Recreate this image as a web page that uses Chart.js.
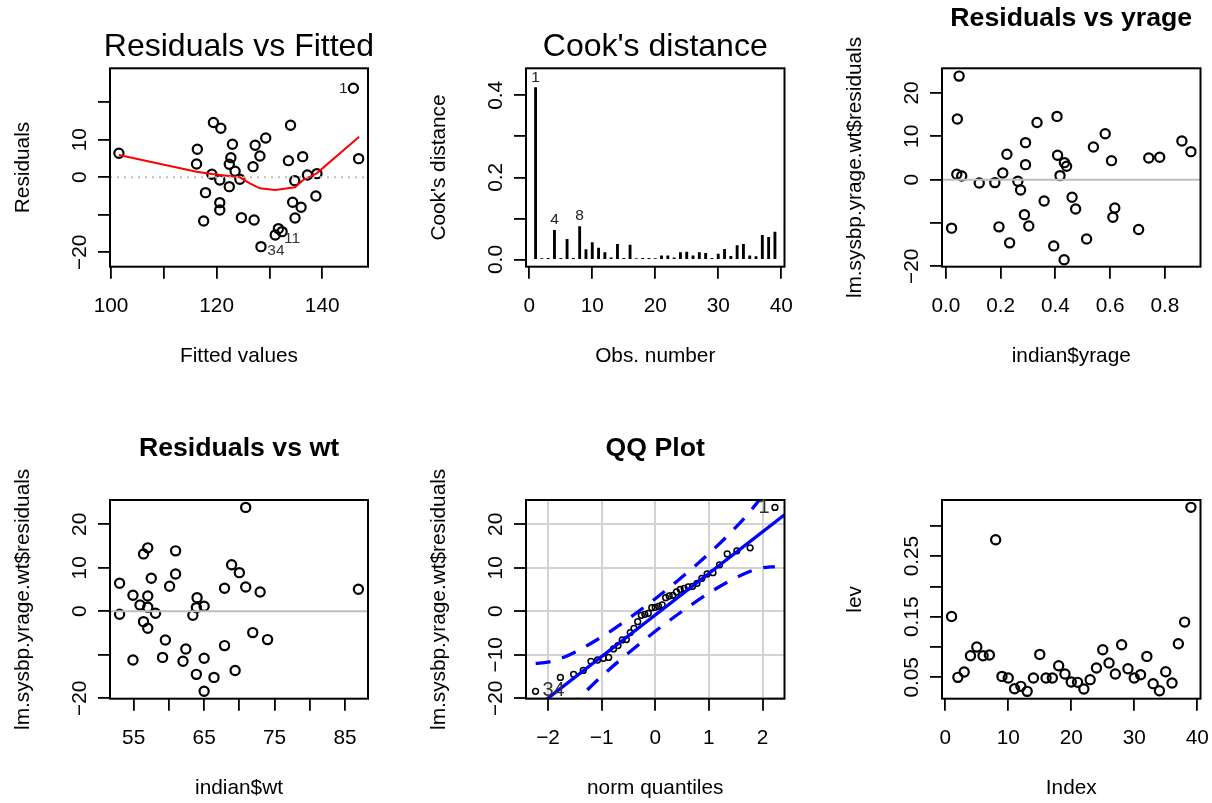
<!DOCTYPE html>
<html>
<head>
<meta charset="utf-8">
<script src="https://cdn.jsdelivr.net/npm/chart.js@4.4.0/dist/chart.umd.min.js"></script>
<style>
  html, body { margin: 0; padding: 0; background: #fff; }
  #wrap { position: relative; width: 1212px; height: 803px; overflow: hidden; }
  canvas { position: absolute; }
</style>
</head>
<body>
<div id="wrap">
  <canvas id="c1" width="404" height="401" style="left:0px;top:0px"></canvas>
  <canvas id="c2" width="404" height="401" style="left:404px;top:0px"></canvas>
  <canvas id="c3" width="404" height="401" style="left:808px;top:0px"></canvas>
  <canvas id="c4" width="404" height="402" style="left:0px;top:401px"></canvas>
  <canvas id="c5" width="404" height="402" style="left:404px;top:401px"></canvas>
  <canvas id="c6" width="404" height="402" style="left:808px;top:401px"></canvas>
</div>
<script>
// Residuals vs Fitted
const fittedVals = [101.5, 116.35, 116.2, 119.4, 120.8, 123.0, 122.7, 122.4, 123.5, 119.1, 120.6, 122.4, 124.4, 117.9, 120.6, 120.6, 117.55, 124.7, 127.1, 127.3, 128.2, 129.3, 126.9, 134.0, 133.6, 136.3, 134.8, 137.2, 139.0, 138.8, 134.4, 136.0, 134.85, 131.7, 131.1, 132.4, 128.4, 145.9, 146.9];
const fittedResid = [6.4, 7.47, 3.56, 14.6, 13.1, 8.8, 5.24, 3.47, 1.6, 0.8, -0.71, -2.49, -0.53, -4.09, -6.76, -8.71, -11.64, -10.76, -11.38, 8.53, 5.69, 10.49, 2.84, 13.87, 4.44, 5.51, -0.89, 0.62, 0.98, -4.98, -6.67, -8.0, -10.84, -13.69, -15.38, -14.49, -18.49, 23.73, 4.98];
const smoothX = [101.5, 116.2, 119.1, 124.4, 126.3, 128.2, 131.1, 134.85, 136.4, 138.95, 147.0];
const smoothY = [5.96, 1.51, 0.89, 0.0, -1.6, -2.93, -3.38, -2.67, -0.71, 1.07, 10.84];

// Cook's distance
const obsNumber = [1,2,3,4,5,6,7,8,9,10,11,12,13,14,15,16,17,18,19,20,21,22,23,24,25,26,27,28,29,30,31,32,33,34,35,36,37,38,39];
const cooksD = [0.419, 0.002, 0.003, 0.071, 0.003, 0.049, 0.003, 0.080, 0.024, 0.041, 0.028, 0.017, 0.004, 0.037, 0.003, 0.035, 0.002, 0.003, 0.003, 0.002, 0.009, 0.009, 0.004, 0.017, 0.018, 0.009, 0.017, 0.015, 0.003, 0.013, 0.025, 0.008, 0.034, 0.037, 0.009, 0.007, 0.059, 0.054, 0.067];

// Residuals vs yrage
const yrage = [0.0485, 0.042, 0.04, 0.058, 0.021, 0.122, 0.179, 0.208, 0.223, 0.194, 0.233, 0.263, 0.273, 0.291, 0.291, 0.287, 0.303, 0.333, 0.359, 0.394, 0.406, 0.408, 0.433, 0.441, 0.417, 0.432, 0.461, 0.474, 0.514, 0.539, 0.582, 0.605, 0.617, 0.61, 0.704, 0.741, 0.781, 0.862, 0.895];
const residYrage = [23.9, 14.0, 1.23, 0.85, -11.2, -0.77, -0.69, 1.54, 5.85, -10.9, -14.6, -0.38, -2.38, 8.54, 3.46, -8.08, -10.7, 13.2, -4.92, -15.3, 14.6, 5.62, 3.92, 3.08, 0.92, -18.5, -4.08, -6.77, -13.7, 7.54, 10.6, 4.38, -6.54, -8.69, -11.5, 5.0, 5.15, 8.92, 6.46];

// Residuals vs wt
const wt = [53.0, 53.0, 54.9, 54.9, 55.9, 56.4, 57.0, 57.0, 57.0, 56.4, 57.0, 57.5, 58.1, 59.5, 59.1, 60.1, 60.95, 60.95, 62.4, 62.0, 63.4, 64.0, 63.9, 65.0, 65.0, 63.9, 65.0, 66.4, 67.9, 67.9, 68.9, 69.4, 70.0, 70.9, 70.9, 71.9, 72.95, 74.0, 86.9];
const residWt = [6.44, -0.69, 3.68, -11.2, 1.46, 13.2, 14.6, 3.52, 0.92, -2.38, -3.91, 7.59, -0.46, -6.59, -10.6, 5.75, 13.9, 8.58, -8.66, -11.5, -0.92, 3.14, 0.84, 1.15, -10.8, -14.5, -18.4, -15.2, 5.29, -7.89, 10.7, -13.6, 8.89, 23.9, 5.59, -4.9, 4.44, -6.51, 5.06];

// QQ plot
const normQuantiles = [-2.232, -1.769, -1.522, -1.342, -1.198, -1.076, -0.967, -0.869, -0.779, -0.695, -0.615, -0.539, -0.466, -0.396, -0.327, -0.260, -0.194, -0.129, -0.064, 0, 0.064, 0.129, 0.194, 0.260, 0.327, 0.396, 0.466, 0.539, 0.615, 0.695, 0.779, 0.869, 0.967, 1.076, 1.198, 1.342, 1.522, 1.769, 2.232];
const sortedResid = [-18.4, -15.2, -14.5, -13.6, -11.5, -11.2, -10.8, -10.6, -8.66, -7.89, -6.59, -6.51, -4.9, -3.91, -2.38, -0.92, -0.69, -0.46, 0.84, 0.92, 1.15, 1.46, 3.14, 3.52, 3.68, 4.44, 5.06, 5.29, 5.59, 5.75, 6.44, 7.59, 8.58, 8.89, 10.7, 13.2, 13.9, 14.6, 23.9];
const qqLineX = [-2.41, 2.41];
const qqLineY = [-23.9, 22.2];
const bandX = [-2.23, -2.0, -1.75, -1.5, -1.0, -0.5, 0, 0.5, 1.0, 1.5, 1.75, 2.0, 2.23];
const bandUpper = [-12.0, -11.7, -10.8, -9.4, -5.9, -1.7, 2.9, 7.9, 13.25, 19.3, 22.7, 26.6, 30.7];
const bandLower = [-32.4, -28.3, -24.4, -21.0, -14.95, -9.6, -4.6, 0.0, 4.2, 7.7, 9.1, 10.0, 10.3];

// Leverage
const lev = [0.1505, 0.05, 0.0588, 0.0857, 0.1, 0.0857, 0.0868, 0.2769, 0.0516, 0.0489, 0.0313, 0.0352, 0.0269, 0.0489, 0.0879, 0.0489, 0.0489, 0.0692, 0.0555, 0.0423, 0.0418, 0.0308, 0.0462, 0.0654, 0.0956, 0.0736, 0.0555, 0.1038, 0.0643, 0.0489, 0.0544, 0.0846, 0.0396, 0.028, 0.0593, 0.0407, 0.1055, 0.1412, 0.3305];

const FONT = '"Liberation Sans", Arial, Helvetica, sans-serif';
const fmt = v => String(v).replace('-', '\u2212');

function pts(xs, ys) { return xs.map((x, i) => ({ x: x, y: ys[i] })); }

function axis(min, max, ticks, grid) {
  return {
    type: 'linear', min: min, max: max, offset: false,
    afterBuildTicks: s => { s.ticks = ticks.map(v => ({ value: v })); },
    ticks: { display: false },
    grid: grid ? { drawOnChartArea: true, color: '#d3d3d3', tickColor: '#000', lineWidth: 2, tickWidth: 1.8, drawTicks: true, tickLength: 12, offset: false }
               : { drawOnChartArea: false, drawTicks: true, tickLength: 12, color: '#000', lineWidth: 1.8, offset: false },
    border: { display: false }
  };
}

// draws the R-style frame, tick labels, titles and point labels
function rFrame(o) {
  return {
    id: 'rFrame',
    afterDraw(chart) {
      const ctx = chart.ctx, a = chart.chartArea;
      const xs = chart.scales.x, ys = chart.scales.y;
      ctx.save();
      ctx.strokeStyle = '#000';
      ctx.lineWidth = 2;
      ctx.strokeRect(a.left, a.top, a.right - a.left, a.bottom - a.top);
      ctx.fillStyle = '#000';
      ctx.font = '20.8px ' + FONT;
      ctx.textAlign = 'center';
      ctx.textBaseline = 'middle';
      o.xAt.forEach((v, i) => ctx.fillText(o.xText ? o.xText[i] : fmt(v), xs.getPixelForValue(v), a.bottom + 39.5));
      o.yAt.forEach((v, i) => {
        ctx.save();
        ctx.translate(a.left - 30, ys.getPixelForValue(v));
        ctx.rotate(-Math.PI / 2);
        ctx.fillText(o.yText ? o.yText[i] : fmt(v), 0, 0);
        ctx.restore();
      });
      ctx.fillText(o.xTitle, (a.left + a.right) / 2, a.bottom + 89.5);
      ctx.save();
      ctx.translate(a.left - 87, (a.top + a.bottom) / 2);
      ctx.rotate(-Math.PI / 2);
      ctx.fillText(o.yTitle, 0, 0);
      ctx.restore();
      if (o.title) {
        ctx.font = o.title.font;
        ctx.fillText(o.title.text, (a.left + a.right) / 2, a.top - o.title.dy);
      }
      (o.marks || []).forEach(m => {
        ctx.font = m.size + 'px ' + FONT;
        ctx.fillStyle = m.color || '#222';
        ctx.fillText(m.text, xs.getPixelForValue(m.x) + m.dx, ys.getPixelForValue(m.y) + m.dy);
      });
      ctx.restore();
    }
  };
}

// plot box positions on the page
function pad(col, row, h) {
  const L = [110, 526, 942][col], R = [368, 784.5, 1200.5][col];
  const T = row ? 500 : 68.3, B = row ? 698.7 : 266.7;
  const cl = col * 404, ct = row * 401;
  return { left: L - cl - 12, right: cl + 404 - R, top: T - ct, bottom: ct + h - B - 12 };
}

function baseOptions(p, xs, ys) {
  return {
    responsive: false, animation: false, devicePixelRatio: 1,
    layout: { padding: p },
    plugins: { legend: { display: false }, tooltip: { enabled: false }, title: { display: false } },
    scales: { x: xs, y: ys }
  };
}

const circle = { pointStyle: 'circle', pointRadius: 4.6, pointBorderWidth: 2.2, pointBorderColor: '#000', pointBackgroundColor: 'rgba(0,0,0,0)', showLine: false };
const bigTitle = '32px ' + FONT;
const boldTitle = 'bold 26.7px ' + FONT;

// 1. Residuals vs Fitted
new Chart(document.getElementById('c1'), {
  type: 'scatter',
  data: { datasets: [
    { type: 'line', data: pts([99.81, 148.67], [0, 0]), borderColor: '#bebebe', borderWidth: 2, borderDash: [2, 5], pointRadius: 0 },
    { type: 'line', data: pts(smoothX, smoothY), borderColor: '#ff0000', borderWidth: 2, pointRadius: 0, tension: 0 },
    Object.assign({ data: pts(fittedVals, fittedResid) }, circle)
  ] },
  options: baseOptions(pad(0, 0, 401), axis(99.81, 148.67, [100, 110, 120, 130, 140]), axis(-23.84, 29.07, [-20, -10, 0, 10, 20])),
  plugins: [rFrame({
    xAt: [100, 120, 140], yAt: [-20, 0, 10],
    xTitle: 'Fitted values', yTitle: 'Residuals',
    title: { text: 'Residuals vs Fitted', font: bigTitle, dy: 21 },
    marks: [
      { text: '1', x: 145.9, y: 23.73, dx: -10, dy: 0, size: 15.5 },
      { text: '11', x: 132.4, y: -14.49, dx: 10, dy: 7, size: 15.5, color: '#333' },
      { text: '34', x: 128.4, y: -18.49, dx: 15, dy: 4, size: 15.5, color: '#333' }
    ]
  })]
});

// 2. Cook's distance
new Chart(document.getElementById('c2'), {
  type: 'bar',
  data: { datasets: [
    { data: pts(obsNumber, cooksD), backgroundColor: '#000', borderWidth: 0, barThickness: 2.2 }
  ] },
  options: baseOptions(pad(1, 0, 401), axis(-0.52, 40.52, [0, 10, 20, 30, 40]), axis(-0.01756, 0.4659, [0, 0.1, 0.2, 0.3, 0.4])),
  plugins: [rFrame({
    xAt: [0, 10, 20, 30, 40], yAt: [0, 0.2, 0.4], yText: ['0.0', '0.2', '0.4'],
    xTitle: 'Obs. number', yTitle: "Cook's distance",
    title: { text: "Cook's distance", font: bigTitle, dy: 21 },
    marks: [
      { text: '1', x: 1, y: 0.419, dx: 0, dy: -10, size: 15.5 },
      { text: '4', x: 4, y: 0.071, dx: 0, dy: -11, size: 15.5 },
      { text: '8', x: 8, y: 0.080, dx: 0, dy: -11, size: 15.5 }
    ]
  })]
});

// 3. Residuals vs yrage
new Chart(document.getElementById('c3'), {
  type: 'scatter',
  data: { datasets: [
    { type: 'line', data: pts([-0.014, 0.93], [0, 0]), borderColor: '#bebebe', borderWidth: 2, pointRadius: 0 },
    Object.assign({ data: pts(yrage, residYrage) }, circle)
  ] },
  options: baseOptions(pad(2, 0, 401), axis(-0.014, 0.93, [0, 0.2, 0.4, 0.6, 0.8]), axis(-20.1, 25.7, [-20, -10, 0, 10, 20])),
  plugins: [rFrame({
    xAt: [0, 0.2, 0.4, 0.6, 0.8], xText: ['0.0', '0.2', '0.4', '0.6', '0.8'],
    yAt: [-20, 0, 10, 20],
    xTitle: 'indian$yrage', yTitle: 'lm.sysbp.yrage.wt$residuals',
    title: { text: 'Residuals vs yrage', font: boldTitle, dy: 49.5 }
  })]
});

// 4. Residuals vs wt
new Chart(document.getElementById('c4'), {
  type: 'scatter',
  data: { datasets: [
    { type: 'line', data: pts([51.64, 88.26], [0, 0]), borderColor: '#bebebe', borderWidth: 2, pointRadius: 0 },
    Object.assign({ data: pts(wt, residWt) }, circle)
  ] },
  options: baseOptions(pad(0, 1, 402), axis(51.64, 88.26, [55, 60, 65, 70, 75, 80, 85]), axis(-20.1, 25.6, [-20, -10, 0, 10, 20])),
  plugins: [rFrame({
    xAt: [55, 65, 75, 85], yAt: [-20, 0, 10, 20],
    xTitle: 'indian$wt', yTitle: 'lm.sysbp.yrage.wt$residuals',
    title: { text: 'Residuals vs wt', font: boldTitle, dy: 51 }
  })]
});

// 5. QQ Plot
new Chart(document.getElementById('c5'), {
  type: 'scatter',
  data: { datasets: [
    { type: 'line', data: pts(bandX, bandUpper), borderColor: '#0000ff', borderWidth: 3.3, borderDash: [15, 12], pointRadius: 0, cubicInterpolationMode: 'monotone', clip: 0 },
    { type: 'line', data: pts(bandX, bandLower), borderColor: '#0000ff', borderWidth: 3.3, borderDash: [15, 12], pointRadius: 0, cubicInterpolationMode: 'monotone', clip: 0 },
    { type: 'line', data: pts(qqLineX, qqLineY), borderColor: '#0000ff', borderWidth: 3.3, pointRadius: 0, clip: 0 },
    Object.assign({ data: pts(normQuantiles, sortedResid) }, circle, { pointRadius: 2.9, pointBorderWidth: 1.5 })
  ] },
  options: baseOptions(pad(1, 1, 402), axis(-2.41, 2.41, [-2, -1, 0, 1, 2], true), axis(-20.1, 25.6, [-20, -10, 0, 10, 20], true)),
  plugins: [rFrame({
    xAt: [-2, -1, 0, 1, 2], yAt: [-20, -10, 0, 10, 20],
    xTitle: 'norm quantiles', yTitle: 'lm.sysbp.yrage.wt$residuals',
    title: { text: 'QQ Plot', font: boldTitle, dy: 51 },
    marks: [
      { text: '1', x: 2.232, y: 23.9, dx: -11, dy: 0, size: 20, color: '#333' },
      { text: '34', x: -2.232, y: -18.4, dx: 18, dy: -1, size: 20, color: '#333' }
    ]
  })]
});

// 6. Leverage
new Chart(document.getElementById('c6'), {
  type: 'scatter',
  data: { datasets: [
    Object.assign({ data: pts(obsNumber, lev) }, circle)
  ] },
  options: baseOptions(pad(2, 1, 402), axis(-0.52, 40.52, [0, 10, 20, 30, 40]), axis(0.0148, 0.3426, [0.05, 0.10, 0.15, 0.20, 0.25, 0.30])),
  plugins: [rFrame({
    xAt: [0, 10, 20, 30, 40], yAt: [0.05, 0.15, 0.25], yText: ['0.05', '0.15', '0.25'],
    xTitle: 'Index', yTitle: 'lev'
  })]
});
</script>
</body>
</html>
